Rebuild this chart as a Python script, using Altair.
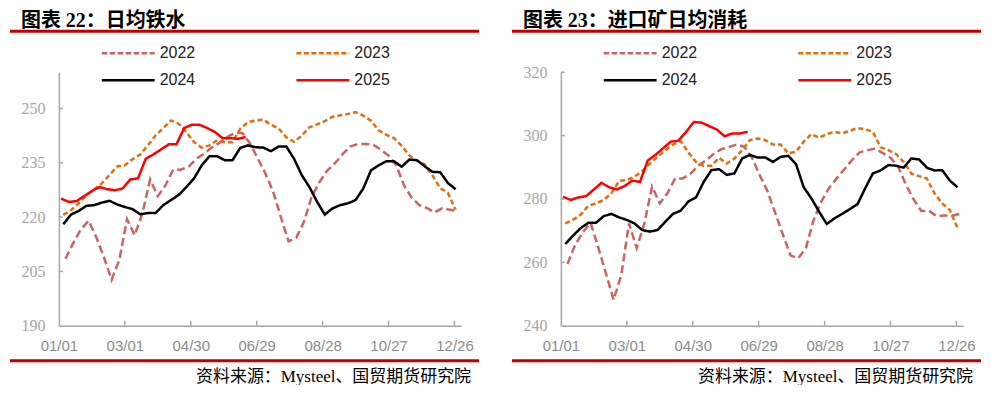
import altair as alt
import pandas as pd

years = ["2022", "2023", "2024", "2025"]
start_days = {"2022": 6, "2023": 4, "2024": 4, "2025": 2}
x_tick_days = [0, 60, 120, 180, 240, 300, 360]
x_tick_labels = ["01/01", "03/01", "04/30", "06/29", "08/28", "10/27", "12/26"]

# 图表22 日均铁水 (万吨)
iron_2022 = [208.5, 212.8, 216.6, 219.0, 214.5, 208.9, 202.7, 208.2, 219.4, 215.0,
             221.0, 230.4, 225.8, 228.8, 233.1, 233.1, 233.9, 236.1, 237.5, 239.2,
             240.5, 242.1, 243.2, 243.2, 240.3, 236.2, 232.0, 227.0, 220.0, 213.3,
             214.3, 218.7, 225.6, 229.6, 232.8, 234.8, 237.3, 239.5, 240.2, 240.2,
             240.0, 238.6, 237.0, 234.3, 228.8, 225.4, 223.3, 222.5, 221.3, 222.5,
             222.0, 221.7]
iron_2023 = [220.6, 221.9, 223.8, 226.1, 227.6, 229.3, 231.6, 234.0, 234.3, 236.0,
             237.3, 239.8, 242.6, 244.6, 246.7, 245.8, 243.5, 240.7, 239.2, 239.8,
             241.2, 240.7, 240.7, 244.4, 246.2, 246.7, 246.9, 245.5, 244.5, 242.0,
             240.8, 242.5, 244.8, 245.6, 246.5, 247.7, 248.1, 248.5, 249.0, 248.0,
             246.6, 244.0, 242.7, 241.8, 239.7, 237.0, 235.5, 234.5, 231.5, 228.0,
             226.7, 222.0]
iron_2024 = [218.0, 220.7, 221.7, 223.1, 223.3, 224.0, 224.5, 223.5, 222.8, 222.2,
             220.8, 221.1, 221.1, 223.3, 224.7, 226.1, 228.3, 230.7, 234.3, 236.8,
             236.8, 235.7, 235.7, 239.1, 239.8, 239.3, 239.2, 238.2, 239.5, 239.5,
             236.1, 231.6, 228.3, 224.2, 220.7, 222.4, 223.3, 223.8, 224.7, 227.9,
             232.9, 234.3, 235.4, 235.4, 233.9, 235.9, 235.7, 234.0, 232.5, 232.4,
             229.4, 227.7]
iron_2025 = [225.1, 224.2, 224.4, 225.8, 227.2, 228.3, 227.7, 227.4, 227.9, 230.4,
             230.7, 236.1, 237.3, 238.7, 240.1, 240.1, 244.6, 245.5, 245.5, 244.6,
             243.5, 241.8, 241.8, 241.6, 242.1]

# 图表23 进口矿日均消耗 (万吨)
ore_2022 = [259.5, 265.5, 269.5, 272.5, 264.8, 256.5, 248.2, 256.0, 272.3, 264.5,
            272.3, 283.9, 278.6, 281.8, 286.5, 286.5, 288.0, 290.5, 292.2, 294.2,
            295.7, 296.4, 297.2, 296.5, 293.0, 287.5, 282.5, 275.7, 268.8, 262.2,
            261.3, 264.5, 273.4, 279.2, 283.4, 286.5, 289.4, 292.3, 294.7, 295.4,
            295.9, 294.5, 293.0, 290.2, 284.5, 279.9, 276.2, 276.3, 274.6, 274.8,
            274.7, 275.3]
ore_2023 = [272.3, 273.4, 275.0, 277.9, 278.6, 279.7, 281.8, 285.7, 286.0, 287.0,
            288.8, 291.2, 293.3, 295.4, 297.2, 298.3, 294.7, 291.7, 290.5, 290.5,
            293.0, 291.2, 292.8, 295.4, 298.6, 299.1, 298.6, 297.2, 297.2, 294.4,
            294.9, 298.1, 300.5, 299.3, 300.5, 301.2, 300.7, 301.5, 302.4, 302.0,
            301.2, 296.3, 295.4, 294.2, 291.7, 288.0, 287.2, 286.5, 281.8, 278.6,
            276.5, 270.8]
ore_2024 = [265.8, 268.4, 270.8, 272.5, 272.5, 274.6, 275.3, 274.2, 273.4, 272.3,
            270.2, 269.7, 270.2, 272.8, 275.3, 276.3, 279.2, 280.5, 285.4, 289.1,
            289.4, 287.6, 288.1, 292.8, 293.9, 293.1, 293.1, 291.7, 293.3, 293.6,
            291.0, 283.7, 280.2, 276.0, 272.1, 273.9, 275.3, 276.8, 278.4, 283.4,
            288.1, 289.0, 290.7, 290.5, 289.9, 292.8, 292.5, 289.9, 289.0, 289.1,
            285.8, 283.7]
ore_2025 = [280.7, 279.7, 280.5, 280.9, 283.0, 285.1, 283.7, 283.0, 284.1, 285.8,
            285.4, 292.1, 293.9, 296.0, 298.1, 298.4, 301.2, 304.3, 304.1, 303.0,
            301.9, 299.8, 300.7, 300.7, 301.2]

iron_ticks = [190, 205, 220, 235, 250]
ore_ticks = [240, 260, 280, 300, 320]

title_left = "图表 22：日均铁水"
title_right = "图表 23：进口矿日均消耗"
source_text = "资料来源：Mysteel、国贸期货研究院"

colors = ["#C86464", "#E46C0A", "#000000", "#FF0000"]
dashes = [[8, 4], [5, 3], [1, 0], [1, 0]]
legend_dashes = [[5.5, 2.5], [5, 2.5], [1, 0], [1, 0]]

AXIS = "#A6A6A6"
W, H = 403, 254
SERIF = "Liberation Serif, Noto Sans CJK SC"
SANS = "Liberation Sans, Arial, sans-serif"

label_expr = " : ".join(
    f"datum.value == {d} ? '{l}'" for d, l in zip(x_tick_days, x_tick_labels)
) + " : ''"


def panel(series, ydom, yticks, title):
    rows = []
    for yr, vals in zip(years, series):
        for i, v in enumerate(vals):
            rows.append({"day": start_days[yr] + 7 * i, "value": v, "year": yr})
    df = pd.DataFrame(rows)

    X = alt.X("day:Q",
              scale=alt.Scale(domain=[0, 366], nice=False, zero=False),
              axis=alt.Axis(values=x_tick_days, labelExpr=label_expr, title=None,
                            ticks=False, grid=False, domainColor=AXIS, domainWidth=1.5,
                            labelFont=SANS, labelFontSize=15, labelColor="#8C8C8C",
                            labelPadding=13, labelFlush=False, labelAlign="center"))
    Y = alt.Y("value:Q",
              scale=alt.Scale(domain=ydom, nice=False, zero=False),
              axis=alt.Axis(values=yticks, title=None, ticks=False, grid=False,
                            domainColor=AXIS, domainWidth=1.5,
                            labelFont=SERIF, labelFontSize=16, labelColor="#A6A6A6",
                            labelPadding=14))

    lines = alt.Chart(df).mark_line(strokeWidth=2.5).encode(
        x=X, y=Y,
        color=alt.Color("year:N", scale=alt.Scale(domain=years, range=colors), legend=None),
        strokeDash=alt.StrokeDash("year:N", scale=alt.Scale(domain=years, range=dashes), legend=None),
    )

    xt = alt.Chart(pd.DataFrame({"day": x_tick_days[1:]})).mark_rule(
        color=AXIS, strokeWidth=1.5).encode(x=X, y=alt.value(H), y2=alt.value(H - 5))
    yt = alt.Chart(pd.DataFrame({"value": yticks[1:]})).mark_rule(
        color=AXIS, strokeWidth=1.5).encode(y=Y, x=alt.value(0), x2=alt.value(4))

    one = pd.DataFrame({"t": [0]})
    layers = [lines, xt, yt]
    # title + rules
    layers.append(alt.Chart(one).mark_text(text=title, font=SERIF, fontSize=20, fontWeight="bold",
                                           align="left", baseline="middle", color="#000000")
                  .encode(x=alt.value(-38), y=alt.value(-51)))
    layers.append(alt.Chart(one).mark_rule(color="#C00000", strokeWidth=3)
                  .encode(x=alt.value(-49), x2=alt.value(421), y=alt.value(-41)))
    layers.append(alt.Chart(one).mark_rule(color="#C00000", strokeWidth=3)
                  .encode(x=alt.value(-49), x2=alt.value(421), y=alt.value(289)))
    layers.append(alt.Chart(one).mark_text(text=source_text, font=SERIF, fontSize=17,
                                           align="right", baseline="middle", color="#000000")
                  .encode(x=alt.value(413), y=alt.value(305)))
    # legend
    for k, yr in enumerate(years):
        col, row = k % 2, k // 2
        x0 = 43 + 195 * col
        yy = -19 + 27 * row
        layers.append(alt.Chart(one).mark_rule(color=colors[k], strokeWidth=2.5,
                                               strokeDash=legend_dashes[k])
                      .encode(x=alt.value(x0), x2=alt.value(x0 + 53), y=alt.value(yy)))
        layers.append(alt.Chart(one).mark_text(text=yr, font=SANS, fontSize=16, align="left",
                                               baseline="middle", color="#222222")
                      .encode(x=alt.value(x0 + 58), y=alt.value(yy)))
    return alt.layer(*layers).properties(width=W, height=H)


left = panel([iron_2022, iron_2023, iron_2024, iron_2025], [190, 260], iron_ticks, title_left)
right = panel([ore_2022, ore_2023, ore_2024, ore_2025], [240, 320], ore_ticks, title_right)

chart = alt.hconcat(left, right, spacing=29).resolve_scale(
    x="independent", y="independent"
).properties(
    padding={"left": 0, "top": 3, "right": 0, "bottom": 0}
).configure_view(stroke=None)

chart.save("out.html", embed_options={"renderer": "svg", "actions": False})
